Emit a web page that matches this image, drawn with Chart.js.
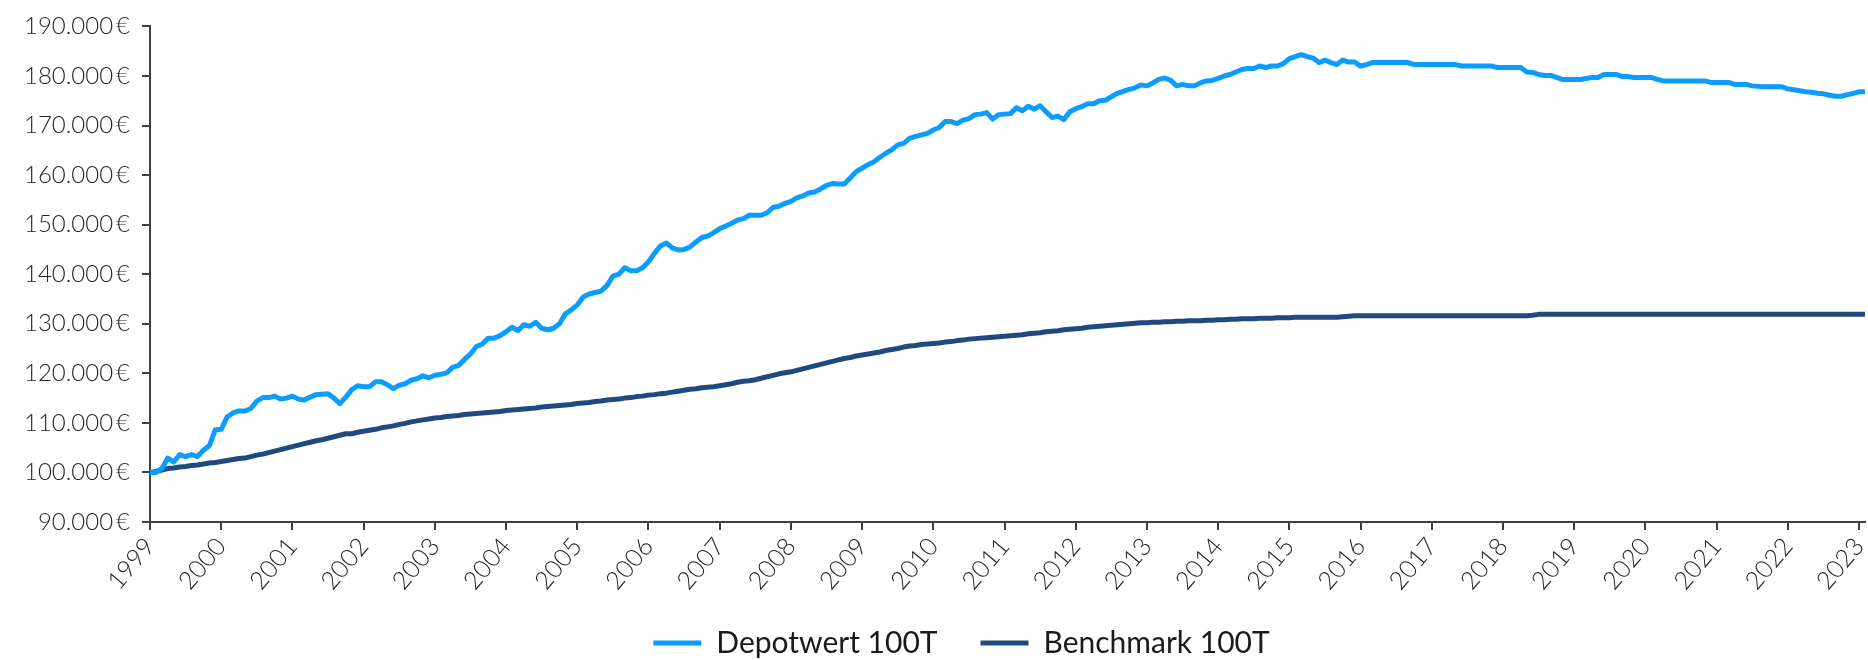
<!DOCTYPE html>
<html>
  <head>
    <meta charset="UTF-8" />
    <title>Depotwert vs Benchmark</title>
    <script src="https://cdn.jsdelivr.net/npm/chart.js"></script>
    <style>
      html, body {
        margin: 0;
        padding: 0;
        background: #ffffff;
      }
      .chart-box {
        width: 1868px;
        height: 660px;
      }
    </style>
  </head>
  <body>
    <div class="chart-box"><canvas id="chart"></canvas></div>

    <script>
      // monthly values in thousand euro, starting January 1999
      const startYear = 1999;
      const yearTicks = ["1999", "2000", "2001", "2002", "2003", "2004", "2005", "2006", "2007", "2008",
        "2009", "2010", "2011", "2012", "2013", "2014", "2015", "2016", "2017", "2018", "2019", "2020",
        "2021", "2022", "2023"];
      const seriesNames = ["Depotwert 100T", "Benchmark 100T"];

      const depotwert = [
        100.0, 100.0, 100.8, 102.9, 102.1, 103.6, 103.2, 103.6, 103.2, 104.5, 105.4, 108.6, // 1999
        108.7, 111.2, 112.0, 112.4, 112.4, 112.9, 114.4, 115.1, 115.1, 115.4, 114.8, 115.0, // 2000
        115.4, 114.8, 114.6, 115.2, 115.7, 115.8, 115.9, 115.0, 113.9, 115.2, 116.7, 117.5, // 2001
        117.3, 117.3, 118.3, 118.3, 117.7, 116.9, 117.6, 117.9, 118.6, 118.9, 119.5, 119.1, // 2002
        119.6, 119.8, 120.1, 121.2, 121.6, 122.8, 123.9, 125.4, 125.9, 127.1, 127.1, 127.6, // 2003
        128.4, 129.3, 128.6, 129.8, 129.5, 130.3, 129.1, 128.8, 129.1, 130.0, 132.0, 132.8, // 2004
        133.8, 135.4, 136.0, 136.3, 136.6, 137.7, 139.6, 140.0, 141.3, 140.7, 140.7, 141.3, // 2005
        142.5, 144.2, 145.7, 146.3, 145.3, 144.9, 145.0, 145.5, 146.5, 147.4, 147.7, 148.4, // 2006
        149.2, 149.7, 150.3, 150.9, 151.2, 151.9, 151.9, 151.9, 152.4, 153.5, 153.7, 154.3, // 2007
        154.7, 155.4, 155.8, 156.4, 156.6, 157.2, 157.9, 158.3, 158.2, 158.2, 159.4, 160.7, // 2008
        161.4, 162.1, 162.7, 163.6, 164.4, 165.1, 166.1, 166.4, 167.4, 167.8, 168.1, 168.4, // 2009
        169.1, 169.6, 170.8, 170.8, 170.4, 171.1, 171.4, 172.2, 172.3, 172.6, 171.3, 172.2, // 2010
        172.3, 172.4, 173.6, 173.0, 173.9, 173.3, 174.0, 172.8, 171.6, 171.9, 171.2, 172.8, // 2011
        173.4, 173.8, 174.4, 174.4, 175.0, 175.1, 175.8, 176.5, 176.9, 177.3, 177.6, 178.2, // 2012
        178.0, 178.6, 179.3, 179.6, 179.1, 178.0, 178.3, 178.0, 178.0, 178.6, 179.0, 179.1, // 2013
        179.5, 180.0, 180.3, 180.8, 181.3, 181.5, 181.5, 182.0, 181.7, 182.0, 182.0, 182.5, // 2014
        183.5, 183.9, 184.3, 183.9, 183.6, 182.7, 183.2, 182.7, 182.3, 183.2, 182.8, 182.8, // 2015
        182.0, 182.3, 182.7, 182.7, 182.7, 182.7, 182.7, 182.7, 182.7, 182.3, 182.3, 182.3, // 2016
        182.3, 182.3, 182.3, 182.3, 182.3, 182.0, 182.0, 182.0, 182.0, 182.0, 182.0, 181.7, // 2017
        181.7, 181.7, 181.7, 181.7, 180.8, 180.7, 180.3, 180.1, 180.1, 179.7, 179.3, 179.3, // 2018
        179.3, 179.3, 179.5, 179.7, 179.7, 180.3, 180.3, 180.3, 179.9, 179.9, 179.7, 179.7, // 2019
        179.7, 179.7, 179.3, 179.0, 179.0, 179.0, 179.0, 179.0, 179.0, 179.0, 179.0, 178.7, // 2020
        178.7, 178.7, 178.7, 178.3, 178.3, 178.3, 178.0, 177.9, 177.8, 177.8, 177.8, 177.8, // 2021
        177.4, 177.2, 177.0, 176.8, 176.7, 176.5, 176.4, 176.1, 175.9, 175.9, 176.2, 176.5, // 2022
        176.8, 176.8 // 2023
      ];

      const benchmark = [
        100.0, 100.2, 100.5, 100.8, 100.9, 101.1, 101.2, 101.4, 101.5, 101.7, 101.9, 102.0, // 1999
        102.2, 102.4, 102.6, 102.8, 102.9, 103.2, 103.5, 103.7, 104.0, 104.3, 104.6, 104.9, // 2000
        105.2, 105.5, 105.8, 106.1, 106.4, 106.6, 106.9, 107.2, 107.5, 107.8, 107.8, 108.1, // 2001
        108.3, 108.5, 108.7, 109.0, 109.2, 109.4, 109.7, 109.9, 110.2, 110.4, 110.6, 110.8, // 2002
        111.0, 111.1, 111.3, 111.4, 111.5, 111.7, 111.8, 111.9, 112.0, 112.1, 112.2, 112.3, // 2003
        112.5, 112.6, 112.7, 112.8, 112.9, 113.0, 113.2, 113.3, 113.4, 113.5, 113.6, 113.7, // 2004
        113.9, 114.0, 114.1, 114.3, 114.4, 114.6, 114.7, 114.8, 115.0, 115.1, 115.3, 115.4, // 2005
        115.6, 115.7, 115.9, 116.0, 116.2, 116.4, 116.6, 116.8, 116.9, 117.1, 117.2, 117.3, // 2006
        117.5, 117.7, 117.9, 118.2, 118.4, 118.5, 118.7, 119.0, 119.3, 119.6, 119.9, 120.1, // 2007
        120.3, 120.6, 120.9, 121.2, 121.5, 121.8, 122.1, 122.4, 122.7, 123.0, 123.2, 123.5, // 2008
        123.7, 123.9, 124.1, 124.3, 124.6, 124.8, 125.0, 125.3, 125.5, 125.6, 125.8, 125.9, // 2009
        126.0, 126.1, 126.3, 126.4, 126.6, 126.7, 126.9, 127.0, 127.1, 127.2, 127.3, 127.4, // 2010
        127.5, 127.6, 127.7, 127.8, 128.0, 128.1, 128.2, 128.4, 128.5, 128.6, 128.8, 128.9, // 2011
        129.0, 129.1, 129.3, 129.4, 129.5, 129.6, 129.7, 129.8, 129.9, 130.0, 130.1, 130.2, // 2012
        130.2, 130.3, 130.3, 130.4, 130.4, 130.5, 130.5, 130.6, 130.6, 130.6, 130.7, 130.7, // 2013
        130.8, 130.8, 130.9, 130.9, 131.0, 131.0, 131.0, 131.1, 131.1, 131.1, 131.2, 131.2, // 2014
        131.2, 131.3, 131.3, 131.3, 131.3, 131.3, 131.3, 131.3, 131.3, 131.4, 131.5, 131.6, // 2015
        131.6, 131.6, 131.6, 131.6, 131.6, 131.6, 131.6, 131.6, 131.6, 131.6, 131.6, 131.6, // 2016
        131.6, 131.6, 131.6, 131.6, 131.6, 131.6, 131.6, 131.6, 131.6, 131.6, 131.6, 131.6, // 2017
        131.6, 131.6, 131.6, 131.6, 131.6, 131.7, 131.9, 131.9, 131.9, 131.9, 131.9, 131.9, // 2018
        131.9, 131.9, 131.9, 131.9, 131.9, 131.9, 131.9, 131.9, 131.9, 131.9, 131.9, 131.9, // 2019
        131.9, 131.9, 131.9, 131.9, 131.9, 131.9, 131.9, 131.9, 131.9, 131.9, 131.9, 131.9, // 2020
        131.9, 131.9, 131.9, 131.9, 131.9, 131.9, 131.9, 131.9, 131.9, 131.9, 131.9, 131.9, // 2021
        131.9, 131.9, 131.9, 131.9, 131.9, 131.9, 131.9, 131.9, 131.9, 131.9, 131.9, 131.9, // 2022
        131.9, 131.9 // 2023
      ];

      const axisColor = "#404040";
      const textColor = "#262626";

      // month i sits at startYear + i/12 on the x axis
      function toPoints(values) {
        return values.map((v, i) => ({ x: startYear + i / 12, y: v * 1000 }));
      }

      function euro(v) {
        return String(v).replace(/\B(?=(\d{3})+(?!\d))/g, ".") + "\u2009€";
      }

      // x labels need a tall box (they get clipped to it), so the legend box
      // is stretched back up and moved a bit right of centre after layout
      const legendShift = {
        id: "legendShift",
        afterLayout(chart) {
          const lg = chart.legend;
          lg.left += 29;
          lg.right += 29;
          lg.top -= 47;
        }
      };

      const ctx = document.getElementById("chart").getContext("2d");
      new Chart(ctx, {
        type: "line",
        data: {
          datasets: [
            {
              label: seriesNames[0],
              data: toPoints(depotwert),
              borderColor: "#0a9dff",
              backgroundColor: "#0a9dff",
              borderWidth: 5,
              borderJoinStyle: "round",
              borderCapStyle: "round",
              pointRadius: 0,
              tension: 0
            },
            {
              label: seriesNames[1],
              data: toPoints(benchmark),
              borderColor: "#1f4a80",
              backgroundColor: "#1f4a80",
              borderWidth: 5,
              borderJoinStyle: "round",
              borderCapStyle: "round",
              pointRadius: 0,
              tension: 0
            }
          ]
        },
        plugins: [legendShift],
        options: {
          responsive: true,
          maintainAspectRatio: false,
          animation: false,
          layout: { padding: { top: 23, right: 3, left: 0, bottom: 0 } },
          plugins: {
            tooltip: { enabled: false },
            legend: {
              position: "bottom",
              maxHeight: 28,
              labels: {
                usePointStyle: true,
                pointStyle: "line",
                pointStyleWidth: 48,
                padding: 43,
                color: "#1a1a1a",
                font: { family: "Lato", size: 30 }
              }
            }
          },
          scales: {
            x: {
              type: "linear",
              min: startYear,
              max: startYear + (depotwert.length - 1) / 12,
              afterBuildTicks: axis => {
                axis.ticks = yearTicks.map(y => ({ value: Number(y) }));
              },
              afterFit: scale => {
                scale.height = 110;
                scale.paddingLeft = 0;
                scale.paddingRight = 0;
              },
              ticks: {
                autoSkip: false,
                minRotation: 50,
                maxRotation: 50,
                padding: 2,
                color: textColor,
                font: { family: "Lato", size: 25, weight: 300 },
                callback: v => String(v)
              },
              grid: { drawOnChartArea: false, tickLength: 8, color: axisColor, lineWidth: 2 },
              border: { color: axisColor, width: 2 }
            },
            y: {
              min: 90000,
              max: 190000,
              afterFit: scale => {
                scale.width = 150;
              },
              ticks: {
                stepSize: 10000,
                padding: 12,
                color: textColor,
                font: { family: "Lato", size: 24, weight: 300 },
                callback: v => euro(v)
              },
              grid: { drawOnChartArea: false, tickLength: 8, color: axisColor, lineWidth: 2 },
              border: { color: axisColor, width: 2 }
            }
          }
        }
      });
    </script>
  </body>
</html>
